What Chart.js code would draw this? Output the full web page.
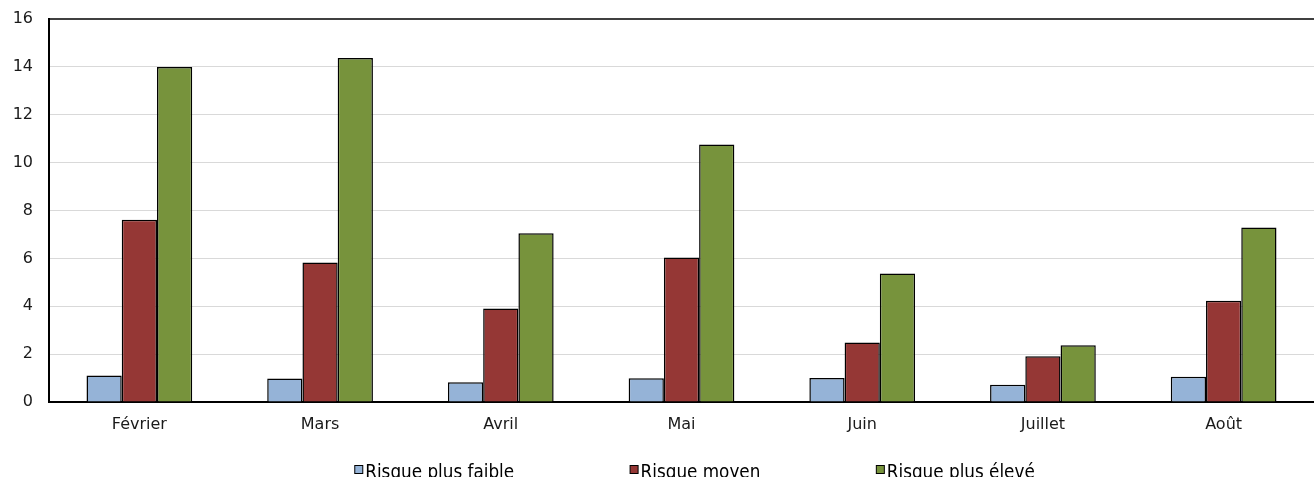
<!DOCTYPE html>
<html>
<head>
<meta charset="utf-8">
<script src="https://cdn.jsdelivr.net/npm/chart.js@4"></script>
<style>
  html, body { margin: 0; padding: 0; background: #ffffff; }
  #wrap { width: 1314px; height: 477px; overflow: hidden; }
</style>
</head>
<body>
<div id="wrap"><canvas id="c" width="1314" height="477"></canvas></div>
<script>
// Months shown on the horizontal axis
const categories = ['Février', 'Mars', 'Avril', 'Mai', 'Juin', 'Juillet', 'Août'];

// Series values, one per month
const lowRisk  = [1.11, 0.98, 0.82, 0.99, 1.00, 0.72, 1.06];
const midRisk  = [7.61, 5.83, 3.91, 6.04, 2.49, 1.91, 4.23];
const highRisk = [14.00, 14.37, 7.05, 10.76, 5.37, 2.37, 7.29];

const seriesNames = ['Risque plus faible', 'Risque moyen', 'Risque plus élevé'];

// Value axis range
const yMin = 0;
const yMax = 16;
const yStep = 2;

const colors = ['#95B3D7', '#953735', '#77933C'];

const tickFont = { family: '"DejaVu Sans", Verdana, sans-serif', size: 16 };

// Legend drawn as a single row under the axis labels
const bottomLegend = {
  id: 'bottomLegend',
  afterDraw(chart) {
    const ctx = chart.ctx;
    const box = 8, gapText = 3, gapItem = 115.5;
    ctx.save();
    ctx.font = '18.7px "DejaVu Sans Condensed", "DejaVu Sans", sans-serif';
    const items = chart.data.datasets.map(ds => ({
      label: ds.label, color: ds.backgroundColor,
      w: box + gapText + ctx.measureText(ds.label).width
    }));
    const total = items.reduce((s, it) => s + it.w, 0) + gapItem * (items.length - 1);
    const area = chart.chartArea;
    let x = (area.left + area.right) / 2 + 13 - total / 2;
    const baseY = chart.height + 1;
    items.forEach(it => {
      ctx.fillStyle = it.color;
      ctx.fillRect(x + 0.5, baseY - 12.5, box, box);
      ctx.strokeStyle = '#000000';
      ctx.lineWidth = 1;
      ctx.strokeRect(x + 0.5, baseY - 12.5, box, box);
      ctx.fillStyle = '#000000';
      ctx.textBaseline = 'alphabetic';
      ctx.textAlign = 'left';
      ctx.fillText(it.label, x + box + gapText, baseY);
      x += it.w + gapItem;
    });
    ctx.restore();
  }
};

new Chart(document.getElementById('c'), {
  type: 'bar',
  data: {
    labels: categories,
    datasets: [lowRisk, midRisk, highRisk].map((vals, i) => ({
      label: seriesNames[i],
      data: vals,
      backgroundColor: colors[i],
      borderColor: '#000000',
      borderWidth: 1.5,
      borderSkipped: 'bottom',
      categoryPercentage: 0.585,
      barPercentage: 1.0
    }))
  },
  options: {
    responsive: false,
    animation: false,
    layout: { padding: { top: 19, right: 0, bottom: 0, left: 0 } },
    plugins: {
      legend: { display: false },
      tooltip: { enabled: false }
    },
    scales: {
      x: {
        grid: { display: false, drawTicks: false },
        border: { display: true, color: '#000000', width: 2 },
        ticks: { color: '#1a1a1a', font: tickFont, padding: 13, maxRotation: 0 },
        afterFit(scale) { scale.height = 75; }
      },
      y: {
        min: yMin,
        max: yMax,
        grid: {
          drawTicks: false,
          color: ctx => (ctx.tick && ctx.tick.value === yMax) ? '#404040' : '#d9d9d9',
          lineWidth: ctx => (ctx.tick && ctx.tick.value === yMax) ? 2 : 1
        },
        border: { display: true, color: '#000000', width: 2 },
        ticks: { stepSize: yStep, color: '#1a1a1a', font: tickFont, padding: 16 },
        afterFit(scale) {
          scale.width = 49;
          scale.paddingTop = 0;
          scale.paddingBottom = 0;
        }
      }
    }
  },
  plugins: [bottomLegend]
});
</script>
</body>
</html>
